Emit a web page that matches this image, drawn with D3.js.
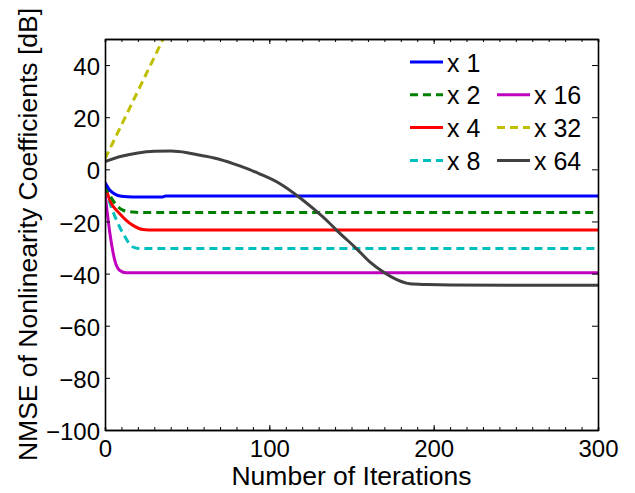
<!DOCTYPE html>
<html>
<head>
<meta charset="utf-8" />
<title>NMSE of Nonlinearity Coefficients</title>
<script src="https://d3js.org/d3.v7.min.js"></script>
<style>
  body { margin: 0; background: #fff; }
  text { font-family: "Liberation Sans", Arial, sans-serif; fill: #000; }
</style>
</head>
<body>
<svg id="chart" width="635" height="493"></svg>
<script>
// series: [iteration, NMSE dB]
var seriesNames = ["x 1", "x 2", "x 4", "x 8", "x 16", "x 32", "x 64"];
var x1 = [[0,-5],[3,-8],[6,-9.5],[10,-10.3],[17,-10.6],[35,-10.6],[37,-10.2],[300,-10.2]];
var x2 = [[0,-6],[3,-10],[6,-13],[11,-15.7],[17,-16.4],[22,-16.6],[300,-16.6]];
var x4 = [[0,-6],[3,-12],[9,-17],[17,-21.5],[23,-23.1],[30,-23.3],[300,-23.3]];
var x8 = [[0,-7],[3,-13],[7,-19.5],[11,-24.6],[17,-29.8],[21,-30.4],[300,-30.4]];
var x16 = [[0,-9],[3,-24.6],[6,-35],[9,-38.8],[13,-39.7],[300,-39.7]];
var x32 = [[0,4],[10,17],[20,30],[30,43],[40,56]];
var x64 = [[0,3],[10,5],[20,6.3],[30,6.9],[40,7],[50,6.4],[58,5.4],[70,3.8],[82,1.3],[94,-1.7],
           [106.5,-5.5],[117.6,-10.4],[126.8,-15.1],[135.9,-20.2],[141,-23.4],[153,-30.4],
           [161.3,-35.6],[169.4,-39.4],[177.5,-42.3],[185.6,-43.9],[195.7,-44.2],[210,-44.4],[300,-44.5]];
var seriesData = [x1, x2, x4, x8, x16, x32, x64];

var xTicks = [0, 100, 200, 300];
var yTicks = [-100, -80, -60, -40, -20, 0, 20, 40];

// styles
var colors = ["#0000ff", "#008000", "#ff0000", "#00bfbf", "#bf00bf", "#bfbf00", "#404040"];
var dashed = [false, true, false, true, false, true, false];

var svg = d3.select("#chart"),
    margin = { top: 39, right: 37, bottom: 63, left: 105 },
    width = +svg.attr("width") - margin.left - margin.right,
    height = +svg.attr("height") - margin.top - margin.bottom;

var scaleX = d3.scaleLinear().domain([0, 300]).range([0, width]),
    scaleY = d3.scaleLinear().domain([-100, 50]).range([height, 0]);

svg.append("defs").append("clipPath").attr("id", "clip")
    .append("rect").attr("width", width).attr("height", height);

var g = svg.append("g").attr("transform", "translate(" + margin.left + "," + margin.top + ")");

var line = d3.line()
    .x(function (d) { return scaleX(d[0]); })
    .y(function (d) { return scaleY(d[1]); })
    .curve(d3.curveMonotoneX);

var plot = g.append("g").attr("clip-path", "url(#clip)");
// gray curve on top, like in the picture
[4, 3, 2, 1, 0, 5, 6].forEach(function (i) {
    plot.append("path")
        .datum(seriesData[i])
        .attr("fill", "none")
        .attr("stroke", colors[i])
        .attr("stroke-width", 3)
        .attr("stroke-dasharray", dashed[i] ? "8,5" : null)
        .attr("d", line);
});

// axes
var minorX = d3.range(0, 301, 10);
function styleAxis(sel) {
    sel.select(".domain").attr("stroke", "#000").attr("stroke-width", 1.6);
    sel.selectAll(".tick line").attr("stroke", "#000").attr("stroke-width", 1);
    sel.selectAll("text").attr("font-size", 24).attr("font-family", "Liberation Sans, Arial, sans-serif").attr("fill", "#000");
}

g.append("g").attr("transform", "translate(0," + height + ")")
    .call(d3.axisBottom(scaleX).tickValues(minorX).tickSize(-3).tickFormat(""))
    .call(styleAxis);
g.append("g")
    .call(d3.axisTop(scaleX).tickValues(minorX).tickSize(-3).tickFormat(""))
    .call(styleAxis);
g.append("g").attr("transform", "translate(0," + height + ")")
    .call(d3.axisBottom(scaleX).tickValues(xTicks).tickSizeInner(-5).tickSizeOuter(0).tickPadding(10))
    .call(styleAxis);
g.append("g")
    .call(d3.axisTop(scaleX).tickValues(xTicks).tickSizeInner(-5).tickSizeOuter(0).tickFormat(""))
    .call(styleAxis);
g.append("g")
    .call(d3.axisLeft(scaleY).tickValues(yTicks).tickSizeInner(-5).tickSizeOuter(0).tickPadding(5))
    .call(styleAxis);
g.append("g").attr("transform", "translate(" + width + ",0)")
    .call(d3.axisRight(scaleY).tickValues(yTicks.concat([50])).tickSizeInner(-6).tickSizeOuter(0).tickFormat(""))
    .call(styleAxis);
g.selectAll(".tick text").attr("dy", function () {
    return d3.select(this.parentNode.parentNode).attr("transform") === null ? "0.4em" : "0.71em";
});

// axis labels
svg.append("text")
    .attr("x", margin.left + width / 2)
    .attr("y", 485)
    .attr("text-anchor", "middle")
    .attr("font-size", 26.5)
    .text("Number of Iterations");

svg.append("text")
    .attr("transform", "translate(37," + (margin.top + height / 2) + ") rotate(-90)")
    .attr("text-anchor", "middle")
    .attr("font-size", 26.5)
    .text("NMSE of Nonlinearity Coefficients [dB]");

// legend, two columns
var legendPos = [[0, 0], [0, 1], [0, 2], [0, 3], [1, 1], [1, 2], [1, 3]];
var legend = svg.append("g").attr("transform", "translate(410,62)");
seriesNames.forEach(function (name, i) {
    var item = legend.append("g")
        .attr("transform", "translate(" + (legendPos[i][0] * 87) + "," + (legendPos[i][1] * 32.8) + ")");
    item.append("line")
        .attr("x1", 0).attr("x2", 33).attr("y1", 0).attr("y2", 0)
        .attr("stroke", colors[i])
        .attr("stroke-width", 3)
        .attr("stroke-dasharray", dashed[i] ? "8,5" : null);
    item.append("text")
        .attr("x", 37).attr("y", 9.5)
        .attr("font-size", 25)
        .text(name);
});
</script>
</body>
</html>
